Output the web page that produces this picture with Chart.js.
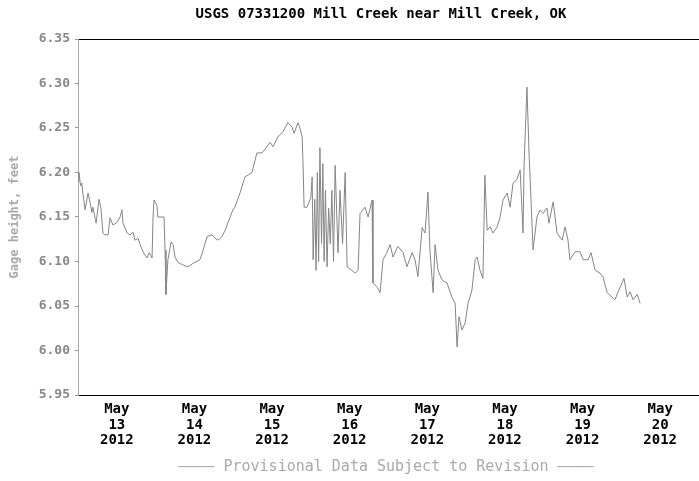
<!DOCTYPE html>
<html>
<head>
<meta charset="utf-8">
<script src="https://cdn.jsdelivr.net/npm/chart.js@4/dist/chart.umd.min.js"></script>
<style>
  html, body { margin: 0; padding: 0; background: #fff; }
  #wrap { width: 699px; height: 481px; }
</style>
</head>
<body>
<div id="wrap"><canvas id="chart" width="699" height="481"></canvas></div>
<script>
// hours since May 12 2012 00:00 and gage height (feet)
const hours = [
  12.0, 12.3, 12.8, 13.2, 13.5, 14.2, 15.1, 15.8, 16.3, 16.6, 17.6, 18.5, 19.1, 19.7, 20.3, 21.3, 21.9, 22.8,
  24.1, 25.0, 25.6, 25.9, 27.2, 28.1, 29.0, 29.6, 30.6, 31.2, 32.1, 33.3, 34.0, 34.9, 35.2, 35.5, 36.4, 36.7,
  38.6, 38.9, 39.2, 39.5, 39.8, 40.8, 41.4, 42.0, 42.9, 44.5, 46.0, 47.6, 49.7, 50.7, 51.9, 53.4, 54.4, 55.3,
  56.5, 57.5, 58.4, 59.9, 60.5, 62.1, 63.6, 64.6, 65.8, 67.3, 68.9, 70.4, 71.4, 72.3, 73.8, 75.4, 76.9, 78.2,
  78.8, 80.0, 80.6, 81.3, 81.6, 81.9, 82.8, 84.0, 84.4, 84.7, 85.2, 85.6, 86.0, 86.4, 86.8, 87.3, 87.7, 88.1,
  88.5, 89.0, 89.5, 90.0, 90.5, 91.0, 91.5, 92.4, 93.0, 93.8, 94.6, 95.2, 96.7, 97.7, 98.6, 99.2, 100.7, 101.7,
  102.9, 103.2, 104.5, 105.4, 106.3, 107.5, 108.5, 109.4, 110.9, 112.5, 113.7, 115.3, 116.2, 117.1, 118.4, 119.3,
  120.2, 120.8, 121.8, 122.4, 123.3, 124.6, 126.1, 127.6, 128.6, 129.2, 129.8, 130.7, 131.7, 132.6, 133.8, 134.8,
  135.4, 136.3, 137.2, 137.8, 138.5, 139.4, 140.3, 141.6, 142.5, 143.4, 144.7, 145.6, 146.5, 147.7, 148.7, 149.6,
  149.9, 150.8, 151.5, 152.1, 152.7, 153.9, 154.9, 155.8, 157.0, 157.6, 158.9, 159.5, 160.1, 161.7, 162.6, 163.5,
  164.1, 165.7, 167.2, 168.2, 169.7, 170.6, 171.9, 173.4, 174.3, 175.6, 177.1, 178.0, 179.0, 180.2, 180.8, 181.8,
  182.7, 183.6, 184.9, 185.8
];
const stage = [
  6.190, 6.200, 6.185, 6.188, 6.177, 6.158, 6.177, 6.165, 6.155, 6.161, 6.143, 6.170, 6.160, 6.132, 6.130, 6.130, 6.149, 6.141,
  6.144, 6.150, 6.158, 6.143, 6.132, 6.130, 6.133, 6.124, 6.126, 6.119, 6.111, 6.104, 6.110, 6.104, 6.150, 6.169, 6.163, 6.150,
  6.150, 6.113, 6.063, 6.083, 6.102, 6.122, 6.119, 6.105, 6.099, 6.096, 6.094, 6.098, 6.102, 6.113, 6.128, 6.130, 6.126, 6.124,
  6.128, 6.135, 6.144, 6.158, 6.161, 6.177, 6.195, 6.197, 6.200, 6.222, 6.222, 6.229, 6.234, 6.229, 6.240, 6.246, 6.256, 6.251,
  6.244, 6.256, 6.250, 6.240, 6.206, 6.161, 6.161, 6.172, 6.195, 6.102, 6.170, 6.090, 6.200, 6.100, 6.228, 6.120, 6.210, 6.100,
  6.180, 6.094, 6.160, 6.120, 6.180, 6.100, 6.208, 6.110, 6.180, 6.120, 6.200, 6.094, 6.090, 6.087, 6.090, 6.154, 6.161, 6.150,
  6.169, 6.076, 6.071, 6.065, 6.102, 6.110, 6.119, 6.105, 6.117, 6.110, 6.094, 6.110, 6.102, 6.083, 6.138, 6.132,
  6.178, 6.113, 6.065, 6.119, 6.090, 6.079, 6.076, 6.060, 6.053, 6.004, 6.038, 6.023, 6.031, 6.053, 6.068, 6.102,
  6.105, 6.090, 6.081, 6.197, 6.135, 6.139, 6.132, 6.139, 6.150, 6.169, 6.177, 6.161, 6.188, 6.192, 6.203, 6.132,
  6.206, 6.296, 6.217, 6.166, 6.113, 6.150, 6.158, 6.154, 6.160, 6.143, 6.167, 6.150, 6.132, 6.124, 6.139, 6.124,
  6.102, 6.111, 6.111, 6.102, 6.102, 6.110, 6.090, 6.087, 6.083, 6.065, 6.060, 6.057, 6.066, 6.076, 6.081, 6.060,
  6.066, 6.057, 6.063, 6.053
];

// x axis: midnight of each day, labels
const tickHours = [24, 48, 72, 96, 120, 144, 168, 192];
const tickDays = ['13', '14', '15', '16', '17', '18', '19', '20'];
const tickMonth = 'May';
const tickYear = '2012';
const yTicks = [5.95, 6.00, 6.05, 6.10, 6.15, 6.20, 6.25, 6.30, 6.35];

const titleText = 'USGS 07331200 Mill Creek near Mill Creek, OK';
const footerText = '———— Provisional Data Subject to Revision ————';

const mono = "'DejaVu Sans Mono', monospace";

// title + footer drawn on canvas
const textPlugin = {
  id: 'usgsText',
  afterDraw(chart) {
    const ctx = chart.ctx;
    ctx.save();
    ctx.textAlign = 'center';
    ctx.textBaseline = 'middle';
    ctx.fillStyle = '#000';
    ctx.font = 'bold 14px ' + mono;
    ctx.fillText(titleText, 381, 14);
    ctx.fillStyle = '#aaa';
    ctx.font = '15px ' + mono;
    ctx.fillText(footerText, 386, 467);
    ctx.restore();
  }
};

new Chart(document.getElementById('chart'), {
  type: 'line',
  data: {
    datasets: [{
      data: hours.map((h, i) => ({ x: h, y: stage[i] })),
      borderColor: '#858585',
      borderWidth: 1,
      pointRadius: 0,
      tension: 0,
      fill: false
    }]
  },
  options: {
    responsive: false,
    animation: false,
    devicePixelRatio: 1,
    layout: { padding: { top: 39, right: 0, left: 0, bottom: 0 } },
    plugins: {
      legend: { display: false },
      title: { display: false },
      tooltip: { enabled: false }
    },
    scales: {
      x: {
        type: 'linear',
        position: 'bottom',
        min: 12,
        max: 204,
        afterBuildTicks: (scale) => { scale.ticks = tickHours.map(v => ({ value: v })); },
        afterFit: (scale) => { scale.height = 86; },
        grid: { display: false, drawTicks: false },
        border: { display: true, color: '#000', width: 1 },
        ticks: {
          padding: 7,
          maxRotation: 0,
          autoSkip: false,
          color: '#000',
          font: { family: mono, size: 14, weight: 'bold', lineHeight: 1.1 },
          callback: (v) => {
            const i = tickHours.indexOf(v);
            return i < 0 ? '' : [tickMonth, tickDays[i], tickYear];
          }
        }
      },
      x2: {
        type: 'linear',
        axis: 'x',
        position: 'top',
        min: 12,
        max: 204,
        afterFit: (scale) => { scale.height = 0; },
        grid: { display: false, drawTicks: false },
        border: { display: true, color: '#000', width: 1 },
        ticks: { display: false }
      },
      y: {
        min: 5.95,
        max: 6.35,
        afterBuildTicks: (scale) => { scale.ticks = yTicks.map(v => ({ value: v })); },
        afterFit: (scale) => { scale.width = 78; },
        grid: { display: true, drawOnChartArea: false, drawTicks: true, tickLength: 3, color: '#999' },
        border: { display: true, color: '#aaa', width: 1, dash: [1, 2] },
        ticks: {
          padding: 5,
          color: '#888',
          font: { family: mono, size: 13, weight: 'bold' },
          callback: (v) => v.toFixed(2)
        },
        title: {
          display: true,
          text: 'Gage height, feet',
          color: '#aaa',
          padding: { top: 8, bottom: 2 },
          font: { family: mono, size: 12, weight: 'bold' }
        }
      }
    }
  },
  plugins: [textPlugin]
});
</script>
</body>
</html>
